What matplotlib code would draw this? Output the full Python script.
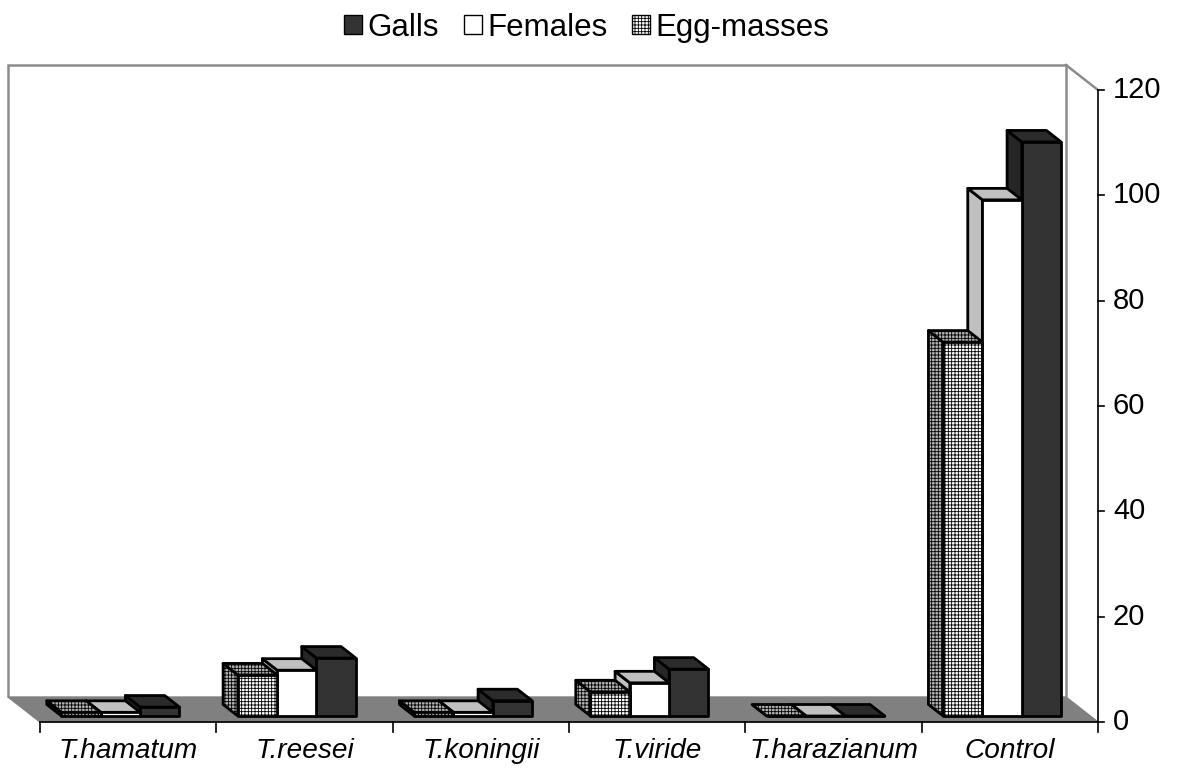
import matplotlib
matplotlib.use("Agg")
import matplotlib.pyplot as plt
from matplotlib.patches import Polygon, Patch

plt.rcParams['font.family'] = ['Liberation Sans', 'DejaVu Sans']
plt.rcParams['hatch.linewidth'] = 0.6
plt.rcParams['hatch.color'] = 'black'

# nematode counts per treatment
categories = ['T.hamatum', 'T.reesei', 'T.koningii', 'T.viride', 'T.harazianum', 'Control']
egg_masses = [0.7, 7.8, 0.7, 4.6, 0, 71]
females = [0.7, 8.7, 0.7, 6.3, 0, 98]
galls = [1.7, 11.0, 2.9, 8.9, 0, 109]
yticks = [0, 20, 40, 60, 80, 100, 120]

# series drawn left to right inside each group: (values, front, top, side, hatch)
series = [
    (egg_masses, 'white', '#b4b4b4', '#b4b4b4', '+++++'),
    (females, 'white', '#c0c0c0', '#c0c0c0', None),
    (galls, '#333333', '#2b2b2b', '#262626', None),
]

fig = plt.figure(figsize=(11.78, 7.74), dpi=100)
ax = fig.add_axes([0, 0, 1, 1])
# one category = 176.33 px, one unit = 5.2667 px
ax.set_xlim(-0.2268, 6.4537)
ax.set_ylim(-9.873, 137.09)
ax.axis('off')

# depth vector of the 3d box (back minus front)
ddx, ddy = -0.1815, 4.747
ymax = 120
ncat = len(categories)

def shift(pts, f):
    return [(x + f * ddx, y + f * ddy) for x, y in pts]

# back wall
wall = shift([(0, 0), (0, ymax), (ncat, ymax), (ncat, 0)], 1)
ax.add_patch(Polygon(wall, closed=False, fc='white', ec='#8c8c8c', lw=1.8, zorder=1))
# floor
floor = [(0, 0), (ncat, 0)] + shift([(ncat, 0), (0, 0)], 1)
ax.add_patch(Polygon(floor, closed=True, fc='#808080', ec='#808080', lw=1, zorder=2))
# right side wall edge
ax.plot([ncat + ddx, ncat], [ymax + ddy, ymax], color='#8c8c8c', lw=1.8, zorder=2)

# bars sit between these depth fractions
f0, f1 = 0.24, 0.70
w = 0.223
z = 3
for i in range(ncat - 1, -1, -1):
    cx = i + 0.5
    for k in range(len(series) - 1, -1, -1):
        vals, fc, tc, sc, hatch = series[k]
        h = vals[i]
        xl = cx + (k - 1.5) * w
        xr = xl + w
        side = [(xl, 0), (xl, h)] + shift([(xl, h), (xl, 0)], f1 - f0)
        top = [(xl, h), (xr, h)] + shift([(xr, h), (xl, h)], f1 - f0)
        front = [(xl, 0), (xr, 0), (xr, h), (xl, h)]
        for pts, col in ((side, sc), (top, tc), (front, fc)):
            ax.add_patch(Polygon(shift(pts, f0), closed=True, fc=col, ec='black',
                                 lw=2.0, hatch=hatch, joinstyle='round', zorder=z))
            z += 1

# category axis
ax.plot([0, ncat], [0, 0], color='black', lw=1.2, zorder=z)
for i in range(ncat + 1):
    ax.plot([i, i], [0, -1.9], color='black', lw=1.2, zorder=z)
for i, name in enumerate(categories):
    ax.text(i + 0.5, -5.6, name, ha='center', va='center', fontsize=20.2,
            style='italic')

# value axis on the front right edge
ax.plot([ncat, ncat], [0, ymax], color='black', lw=1.2, zorder=z)
for v in yticks:
    ax.plot([ncat, ncat + 0.036], [v, v], color='black', lw=1.2, zorder=z)
    ax.text(ncat + 0.085, v, str(v), ha='left', va='center', fontsize=21)

handles = [Patch(fc='#333333', ec='black'),
           Patch(fc='white', ec='black'),
           Patch(fc='white', ec='black', hatch='+++++')]
fig.legend(handles, ['Galls', 'Females', 'Egg-masses'], loc='upper center',
           bbox_to_anchor=(0.498, 1.012), ncol=3, frameon=False, fontsize=22.5,
           handlelength=0.58, handleheight=0.58, handletextpad=0.16,
           columnspacing=0.8, borderpad=0.2)

fig.savefig('out.png', dpi=100)
